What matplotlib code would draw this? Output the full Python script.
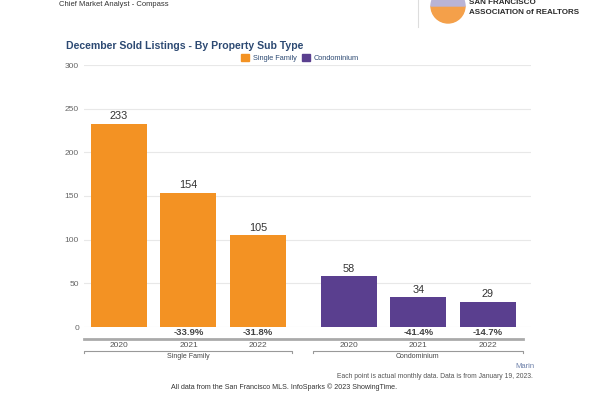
import numpy as np
import matplotlib.pyplot as plt
import matplotlib.transforms as mtransforms
from matplotlib.patches import Patch, Wedge

plt.rcParams['font.family'] = ['Liberation Sans', 'DejaVu Sans']

# data
groups = ["Single Family", "Condominium"]
years = ["2020", "2021", "2022"]
single_family = [233, 154, 105]
condominium = [58, 34, 29]
sf_change = ["", "-33.9%", "-31.8%"]
condo_change = ["", "-41.4%", "-14.7%"]

orange = "#F39223"
purple = "#5A3F8F"

W, H = 600, 397
fig = plt.figure(figsize=(6, 3.97), dpi=100)

def fy(py):
    return 1 - py / H

ax = fig.add_axes([84 / W, fy(327), (531 - 84) / W, (327 - 65) / H])

pos_sf = np.array([0, 1, 2])
pos_co = pos_sf + 3.31
bw = 0.806
b1 = ax.bar(pos_sf, single_family, width=bw, color=orange, zorder=3)
b2 = ax.bar(pos_co, condominium, width=bw, color=purple, zorder=3)
for bars, vals in [(b1, single_family), (b2, condominium)]:
    for b, v in zip(bars, vals):
        ax.text(b.get_x() + b.get_width() / 2, v + 3, str(v), ha='center', va='bottom',
                fontsize=7.8, color='#333333')

ax.set_xlim(-0.504, 5.93)
ax.set_ylim(0, 300)
ax.set_yticks(range(0, 301, 50))
ax.tick_params(axis='y', length=0, labelsize=6, labelcolor='#666666', pad=3.6)
ax.set_xticks([])
ax.grid(axis='y', color='#e8e8e8', lw=0.8, zorder=0)
for s in ax.spines.values():
    s.set_visible(False)

tr = mtransforms.blended_transform_factory(ax.transData, fig.transFigure)
allpos = list(pos_sf) + list(pos_co)
changes = sf_change + condo_change
for p, c, y in zip(allpos, changes, years * 2):
    if c:
        ax.text(p, fy(332.5), c, transform=tr, ha='center', va='center', fontsize=6.8,
                fontweight='bold', color='#444444')
    ax.text(p, fy(345.5), y, transform=tr, ha='center', va='center', fontsize=6, color='#555555')

ax.plot([-0.504, 5.81], [fy(338.5)] * 2, transform=tr, color='#aaaaaa', lw=2, clip_on=False)

# group brackets
for x0, x1, name in [(-0.504, 2.49, groups[0]), (2.79, 5.81, groups[1])]:
    ax.plot([x0, x0, x1, x1], [fy(353), fy(351), fy(351), fy(353)], transform=tr,
            color='#999999', lw=0.8, clip_on=False)
    ax.text((x0 + x1) / 2, fy(356.5), name, transform=tr, ha='center', va='center',
            fontsize=5, color='#444444')

# title & legend
fig.text(66 / W, fy(46), "December Sold Listings - By Property Sub Type", fontsize=7.6,
         fontweight='bold', color='#2d4a73', va='center')
fig.legend(handles=[Patch(color=orange, label="Single Family"),
                    Patch(color=purple, label="Condominium")],
           loc='center', bbox_to_anchor=(300 / W, fy(58)), ncol=2, frameon=False,
           fontsize=5.3, handlelength=1.1, handleheight=1.1, handletextpad=0.5,
           columnspacing=0.8, labelcolor='#2d4a73')

# footer
fig.text(534 / W, fy(366), "Marin", ha='right', va='center', fontsize=5.5, color='#6b7fa8')
fig.text(533 / W, fy(376.5), "Each point is actual monthly data. Data is from January 19, 2023.",
         ha='right', va='center', fontsize=4.9, color='#555555')
fig.text(284 / W, fy(387), "All data from the San Francisco MLS. InfoSparks \u00a9 2023 ShowingTime.",
         ha='center', va='center', fontsize=5.1, color='#333333')

# header
fig.text(59 / W, fy(4), "Chief Market Analyst - Compass", ha='left', va='center',
         fontsize=5.5, color='#333333')
fig.add_artist(plt.Line2D([418 / W, 418 / W], [fy(27), 1], color='#dddddd', lw=0.8))
hdr = fig.add_axes([428 / W, fy(26), 40 / W, 26 / H])
hdr.set_xlim(0, 40)
hdr.set_ylim(0, 26)
hdr.axis('off')
hdr.add_patch(Wedge((20, 20), 17, 180, 360, color='#f4a04a'))
hdr.add_patch(Wedge((20, 20), 17, 0, 180, color='#b9b4d6'))
fig.text(469 / W, fy(2), "SAN FRANCISCO", ha='left', va='center', fontsize=5.8,
         fontweight='bold', color='#2b2b2b')
fig.text(469 / W, fy(12), "ASSOCIATION of REALTORS", ha='left', va='center', fontsize=5.8,
         fontweight='bold', color='#2b2b2b')

fig.savefig('out.png', dpi=100)
